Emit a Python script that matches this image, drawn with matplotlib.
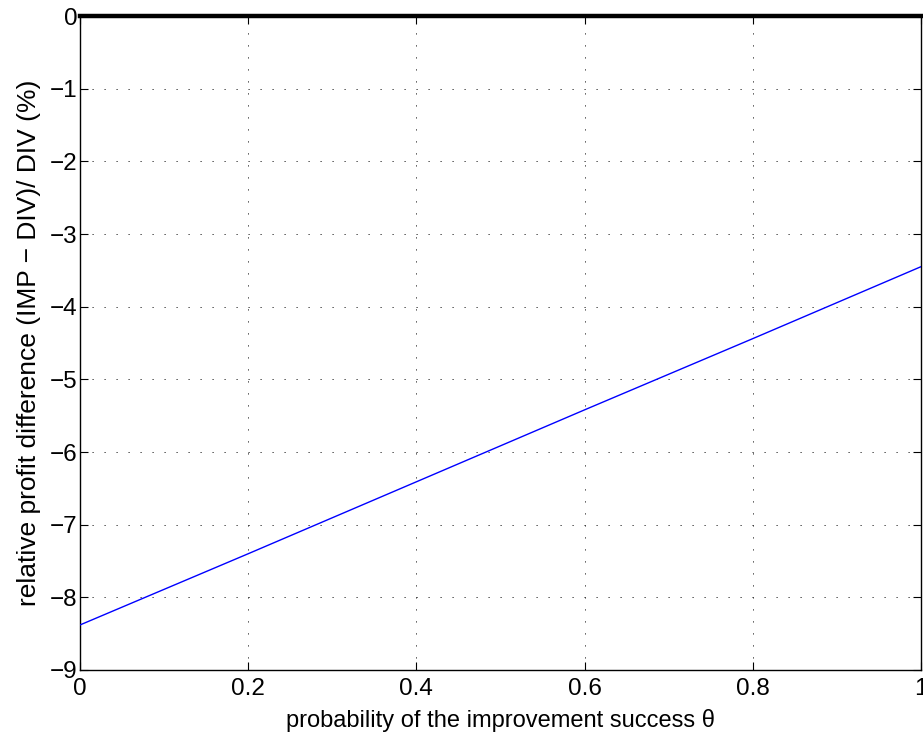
import numpy as np
import matplotlib.pyplot as plt

plt.rcParams['font.family'] = ['Liberation Sans', 'DejaVu Sans']

# success probability vs. relative profit difference (%)
theta = [0.0, 0.2, 0.4, 0.6, 0.8, 1.0]
rel_diff = [-8.38, -7.40, -6.41, -5.42, -4.44, -3.45]
zero_x = [0.0, 1.0]
zero_y = [0.0, 0.0]

xticks = [0, 0.2, 0.4, 0.6, 0.8, 1]
xticklabels = ['0', '0.2', '0.4', '0.6', '0.8', '1']
yticks = list(range(-9, 1))
yticklabels = ['\u2212%d' % -v if v < 0 else '0' for v in yticks]

fig = plt.figure(figsize=(9.23, 7.4), dpi=100)
ax = fig.add_axes([0.0867, 0.0946, 0.911, 0.8837])

ax.plot(theta, rel_diff, color='#0000ff', lw=1.0, zorder=3)
ax.plot(zero_x, zero_y, color='black', lw=3.2, zorder=4, clip_on=False)

ax.set_xlim(0, 1)
ax.set_ylim(-9, 0)
ax.set_xticks(xticks)
ax.set_xticklabels(xticklabels)
ax.set_yticks(yticks)
ax.set_yticklabels(yticklabels)

ax.grid(True, color='#303030', linestyle=(0, (1.2, 10.8)), lw=0.72)
ax.tick_params(direction='in', length=6, width=0.8, top=True, right=True,
               labelsize=17.5)
ax.tick_params(axis='x', pad=6)
ax.tick_params(axis='y', pad=2)
for s in ax.spines.values():
    s.set_linewidth(1.0)

ax.set_xlabel('probability of the improvement success \u03b8', fontsize=17, labelpad=6)
ax.set_ylabel('relative profit difference (IMP \u2212 DIV)/ DIV (%)', fontsize=19, labelpad=6)

fig.savefig('out.png', dpi=100)
